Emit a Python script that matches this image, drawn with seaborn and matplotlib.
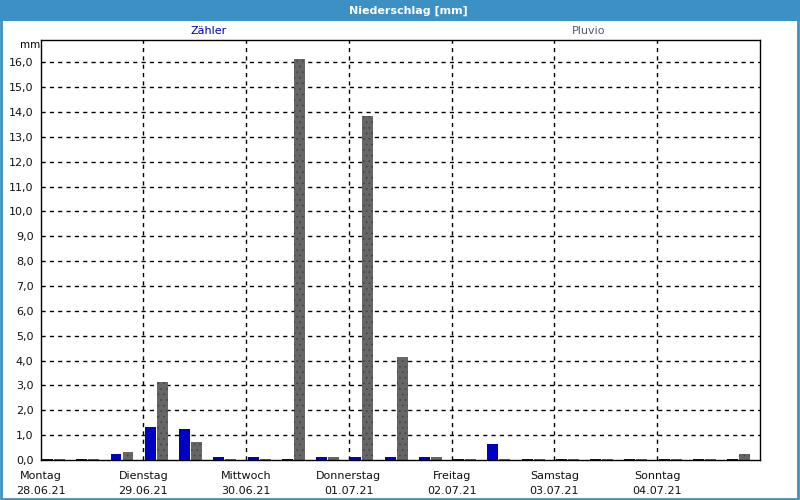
import matplotlib
matplotlib.use("Agg")
import matplotlib.pyplot as plt
from matplotlib.patches import Rectangle
import seaborn as sns
import pandas as pd
import numpy as np

days = ["Montag", "Dienstag", "Mittwoch", "Donnerstag", "Freitag", "Samstag", "Sonntag"]
dates = ["28.06.21", "29.06.21", "30.06.21", "01.07.21", "02.07.21", "03.07.21", "04.07.21"]
periods_per_day = 3

zaehler = [0.05, 0.05, 0.24,
           1.32, 1.24, 0.13,
           0.13, 0.05, 0.13,
           0.12, 0.12, 0.12,
           0.04, 0.65, 0.04,
           0.04, 0.04, 0.04,
           0.04, 0.04, 0.04]
pluvio = [0.05, 0.05, 0.32,
          3.13, 0.72, 0.05,
          0.05, 16.13, 0.13,
          13.84, 4.14, 0.12,
          0.04, 0.04, 0.04,
          0.04, 0.04, 0.04,
          0.04, 0.04, 0.25]
series = ["Zähler", "Pluvio"]
colors = {"Zähler": "#0000C4", "Pluvio": "#666666"}

n = len(zaehler)
df = pd.DataFrame({
    "slot": list(range(n)) * 2,
    "serie": [series[0]] * n + [series[1]] * n,
    "wert": zaehler + pluvio,
})

sns.set_style("white")
plt.rcParams["font.family"] = ["DejaVu Sans"]
plt.rcParams["hatch.linewidth"] = 0.4

fig = plt.figure(figsize=(8, 5), dpi=100)
ax = fig.add_axes([40.5 / 800, 40 / 500, 719.5 / 800, 420 / 500])

sns.barplot(data=df, x="slot", y="wert", hue="serie", hue_order=series,
            palette=colors, order=list(range(n)), width=0.70, gap=0.085,
            saturation=1, legend=False, ax=ax, linewidth=0, errorbar=None)

# stippled pattern on Pluvio bars
for bar in ax.containers[1]:
    bar.set_hatch("...")
    bar.set_edgecolor("#404040")
    bar.set_linewidth(0)

offset = 0.379
ax.set_xlim(-offset, n - offset)
ax.set_ylim(0, 16.9)

bounds = [-offset + periods_per_day * k for k in range(len(days))]
ax.set_xticks(bounds)
ax.set_xticklabels([f"{d}\n{dt}" for d, dt in zip(days, dates)],
                   fontsize=8, linespacing=1.65, color="#111111")
ax.set_yticks(range(0, 17))
ax.set_yticklabels([f"{v},0" for v in range(0, 17)], fontsize=8, color="#111111")
ax.tick_params(axis="both", length=0)
ax.tick_params(axis="y", pad=5)
ax.tick_params(axis="x", pad=8)
ax.set_xlabel("")
ax.set_ylabel("")

for b in bounds[1:]:
    ax.axvline(b, color="black", linestyle=(0, (3, 3)), linewidth=1, zorder=0.5)
for v in range(1, 17):
    ax.axhline(v, color="black", linestyle=(0, (3, 3)), linewidth=1, zorder=0.5)

for s in ax.spines.values():
    s.set_visible(True)
    s.set_color("black")
    s.set_linewidth(1)

# header band and texts
fig.patches.append(Rectangle((0, 1 - 21 / 500), 1, 21 / 500, transform=fig.transFigure,
                             facecolor="#3D90C3", edgecolor="none", zorder=0))
fig.text(408 / 800, 1 - 10.5 / 500, "Niederschlag [mm]", color="white", fontsize=8,
         fontweight="bold", ha="center", va="center")
fig.text(209 / 800, 1 - 31.5 / 500, "Zähler", color="#0000C4", fontsize=8,
         ha="center", va="center")
fig.text(589 / 800, 1 - 31.5 / 500, "Pluvio", color="#555577", fontsize=8,
         ha="center", va="center")
fig.text(30 / 800, 1 - 45.5 / 500, "mm", color="black", fontsize=7.5,
         ha="center", va="center")

# outer frame
fig.patches.append(Rectangle((0.001, 0.002), 0.997, 0.996, transform=fig.transFigure,
                             facecolor="none", edgecolor="#3D90C3", linewidth=2, zorder=10))

fig.savefig("out.png", dpi=100)
